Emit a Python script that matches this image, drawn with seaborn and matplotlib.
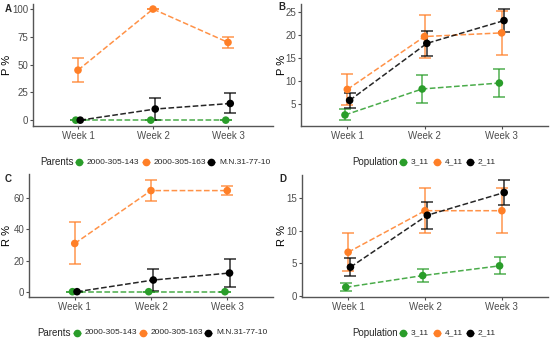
import numpy as np
import pandas as pd
import matplotlib.pyplot as plt
import seaborn as sns
from matplotlib.lines import Line2D

weeks = ['Week 1', 'Week 2', 'Week 3']

parents = ['2000-305-143', '2000-305-163', 'M.N.31-77-10']
populations = ['3_11', '4_11', '2_11']

# A: P % by parent (mean, lower, upper)
a_mean = [[0, 0, 0], [45, 100, 70], [0, 10, 15]]
a_lo = [[0, 0, 0], [34, 100, 65], [0, 0, 6]]
a_hi = [[0, 0, 0], [56, 100, 75], [0, 20, 24]]

# B: P % by population
b_mean = [[2.5, 8.2, 9.5], [8.1, 19.7, 20.5], [5.7, 18.2, 23.2]]
b_lo = [[1.3, 5.2, 6.4], [4.7, 14.9, 15.7], [4.0, 15.5, 20.7]]
b_hi = [[3.7, 11.2, 12.6], [11.5, 24.5, 25.3], [7.4, 20.9, 25.7]]

# C: R % by parent
c_mean = [[0, 0, 0], [31, 65, 65], [0, 7.5, 12]]
c_lo = [[0, 0, 0], [17.5, 58, 62], [0, 0.5, 3]]
c_hi = [[0, 0, 0], [44.5, 72, 68], [0, 14.5, 21]]

# D: R % by population
d_mean = [[1.3, 3.1, 4.6], [6.7, 13.1, 13.1], [4.4, 12.4, 15.9]]
d_lo = [[0.7, 2.1, 3.3], [3.8, 9.6, 9.6], [3.0, 10.3, 14.0]]
d_hi = [[1.9, 4.1, 5.9], [9.6, 16.6, 16.6], [5.8, 14.5, 17.8]]

colors = ['#2a9d2a', '#ff7f27', '#000000']

sns.set_theme(style='white')
plt.rcParams['font.family'] = ['Liberation Sans', 'DejaVu Sans']

fig = plt.figure(figsize=(5.5, 3.41), dpi=100)
W, H = 550, 341


def px_axes(x0, x1, y0, y1):
    return fig.add_axes([x0 / W, (H - y1) / H, (x1 - x0) / W, (y1 - y0) / H])


def draw_panel(ax, groups, mean, lo, hi, ylim, yticks, ylabel, label_x):
    rows = []
    for gi, g in enumerate(groups):
        for wi, w in enumerate(weeks):
            rows.append({'group': g, 'pos': wi + (gi - 1) * 0.03,
                         'val': mean[gi][wi], 'lo': lo[gi][wi], 'hi': hi[gi][wi]})
    df = pd.DataFrame(rows)
    pal = dict(zip(groups, colors))
    for gi, g in enumerate(groups):
        sub = df[df['group'] == g]
        ax.errorbar(sub['pos'], sub['val'],
                    yerr=[sub['val'] - sub['lo'], sub['hi'] - sub['val']],
                    fmt='none', ecolor=colors[gi], elinewidth=1.2, capsize=4,
                    capthick=1.2, alpha=0.75, zorder=2)
    sns.lineplot(data=df, x='pos', y='val', hue='group', palette=pal,
                 linestyle='--', linewidth=1.1, alpha=0.85, legend=False,
                 ax=ax, zorder=3, estimator=None, sort=True)
    sns.scatterplot(data=df, x='pos', y='val', hue='group', palette=pal,
                    s=30, edgecolor='none', legend=False, ax=ax, zorder=4)
    ax.set_xlim(-0.6, 2.6)
    ax.set_ylim(*ylim)
    ax.set_xticks([0, 1, 2])
    ax.set_xticklabels(weeks)
    ax.set_yticks(yticks)
    ax.set_xlabel('')
    ax.set_ylabel(ylabel, fontsize=8, color='black')
    ax.yaxis.set_label_coords(label_x, 0.5)
    ax.tick_params(axis='both', labelsize=7, colors='#4d4d4d', length=2.5,
                   width=0.8, direction='out', pad=1, left=True, bottom=True)
    sns.despine(ax=ax)
    for s in ['left', 'bottom']:
        ax.spines[s].set_color('#555555')
        ax.spines[s].set_linewidth(1.0)


def draw_legend(title, groups, title_x, item_x, y):
    fig.text(title_x / W, (H - y) / H, title, fontsize=7, va='center', ha='left')
    for gi, g in enumerate(groups):
        xm = item_x[gi]
        fig.add_artist(Line2D([(xm - 4) / W, (xm + 4) / W], [(H - y) / H] * 2,
                              color=colors[gi], linestyle='--', linewidth=1.0))
        fig.add_artist(Line2D([xm / W], [(H - y) / H], color=colors[gi],
                              marker='o', markersize=4.5, linestyle='none'))
        fig.text((xm + 8) / W, (H - y) / H, g, fontsize=6, va='center', ha='left')


def letter(txt, x, y):
    fig.text(x / W, (H - y) / H, txt, fontsize=7, fontweight='bold',
             ha='left', va='top')


ax_a = px_axes(33, 273, 3.5, 125.7)
draw_panel(ax_a, parents, a_mean, a_lo, a_hi, (-5, 105), [0, 25, 50, 75, 100], 'P %', -0.088)

ax_b = px_axes(301, 548, 3.7, 126)
draw_panel(ax_b, populations, b_mean, b_lo, b_hi, (0.08, 26.9), [5, 10, 15, 20, 25], 'P %', -0.057)

ax_c = px_axes(29, 273, 174.1, 297.3)
draw_panel(ax_c, parents, c_mean, c_lo, c_hi, (-3.6, 75.6), [0, 20, 40, 60], 'R %', -0.07)

ax_d = px_axes(302, 548, 174.7, 296.7)
draw_panel(ax_d, populations, d_mean, d_lo, d_hi, (-0.155, 18.65), [0, 5, 10, 15], 'R %', -0.061)

letter('A', 5, 4)
letter('B', 278, 2)
letter('C', 5, 174)
letter('D', 279, 174)

draw_legend('Parents', parents, 40, [79, 146, 211], 162)
draw_legend('Population', populations, 352, [403, 437, 470], 162)
draw_legend('Parents', parents, 37, [77, 143, 208], 333)
draw_legend('Population', populations, 352, [403, 437, 470], 333)

fig.savefig('out.png', dpi=100)
